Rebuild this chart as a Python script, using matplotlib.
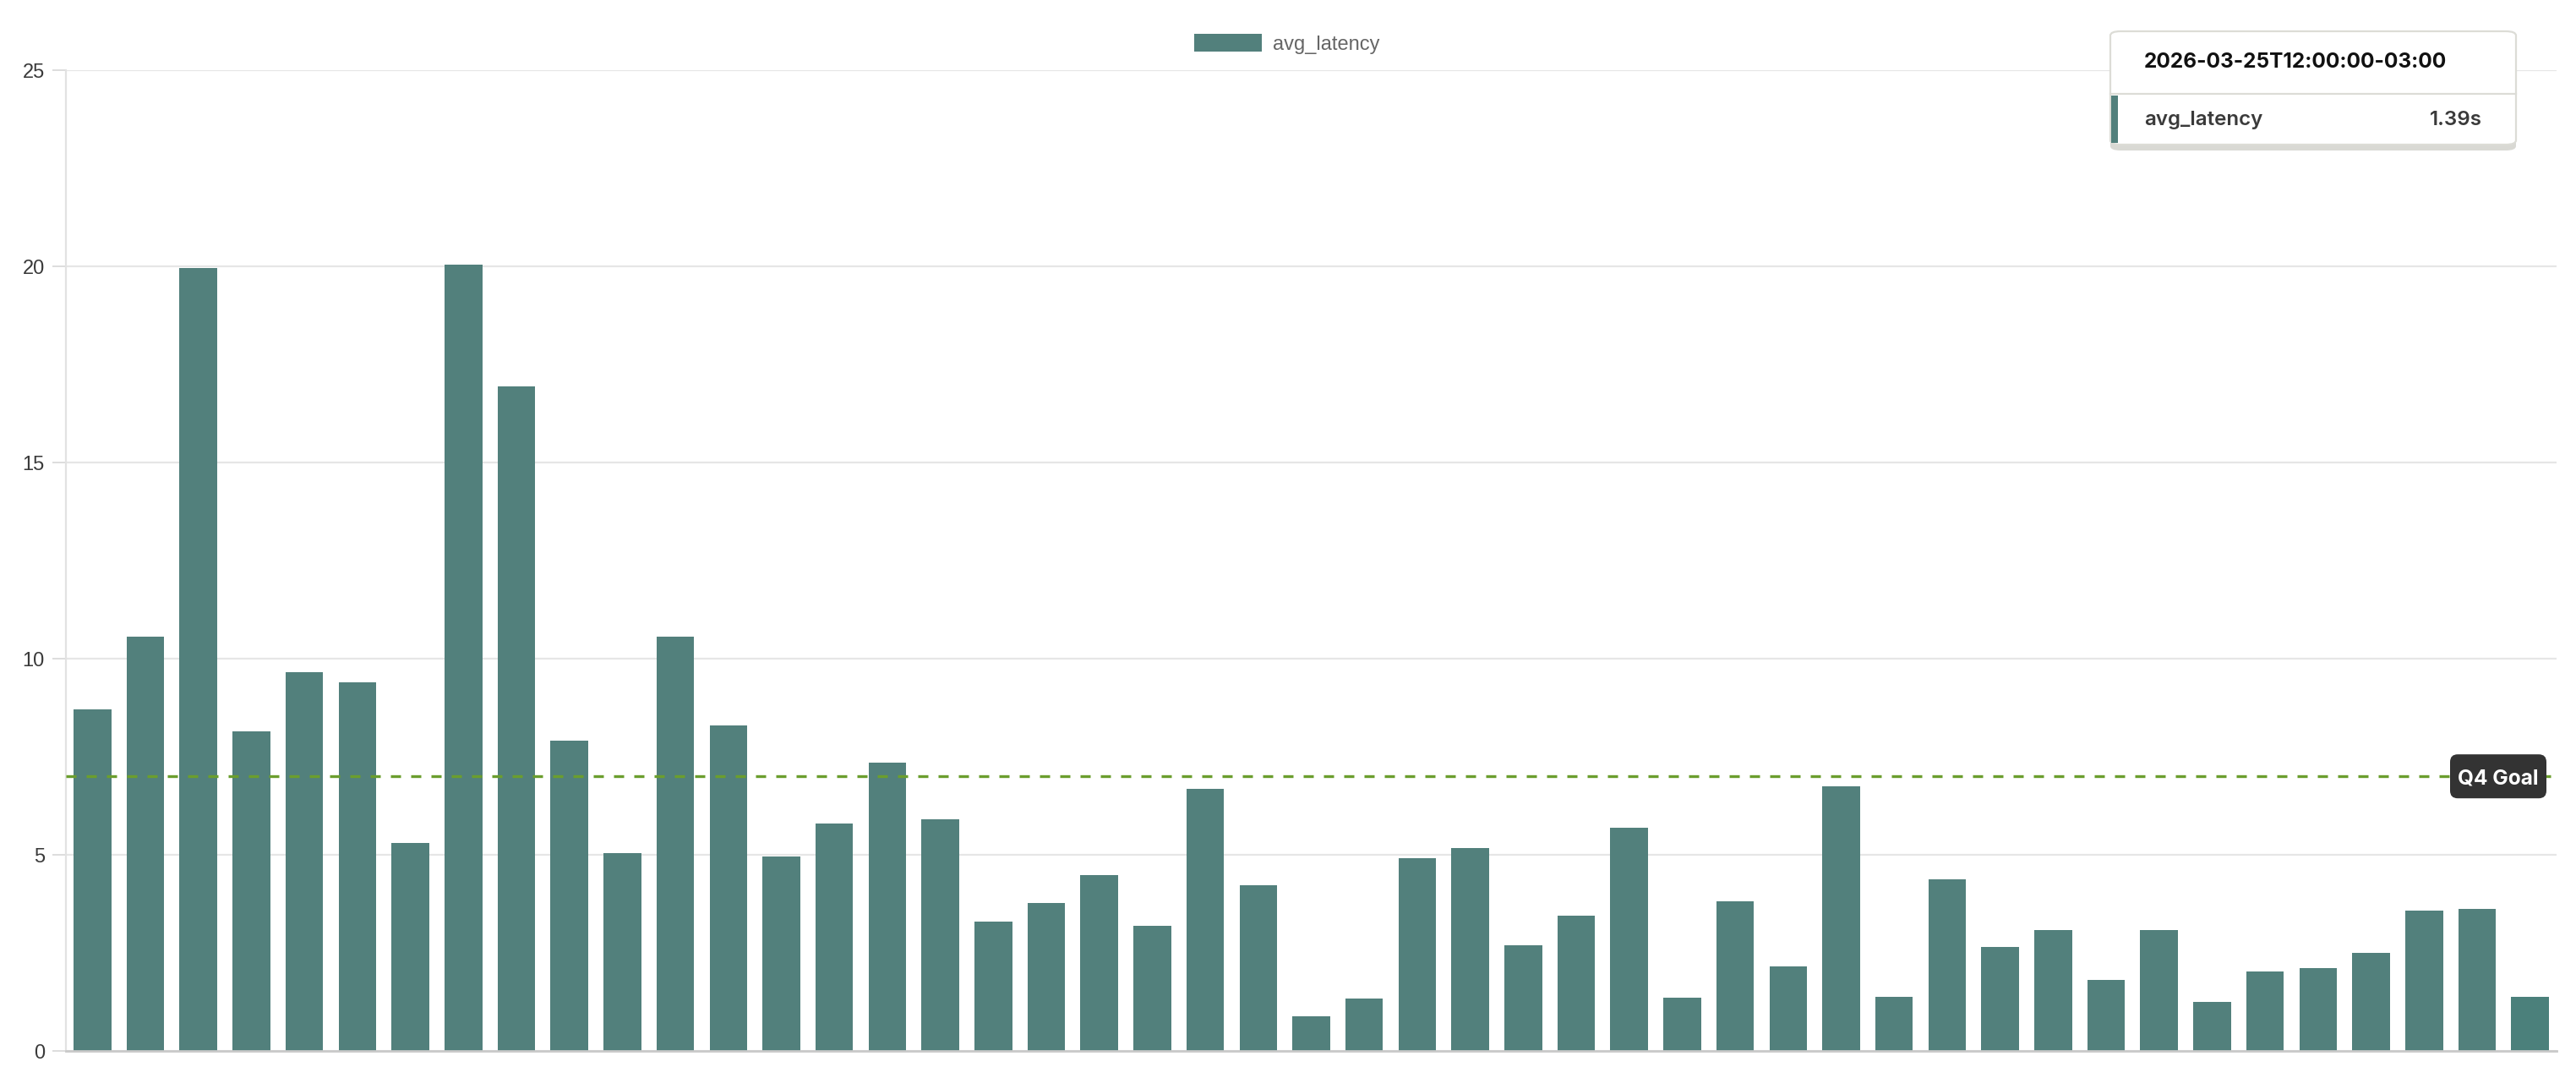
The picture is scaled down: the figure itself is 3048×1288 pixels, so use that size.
import matplotlib
matplotlib.use('Agg')
import matplotlib.pyplot as plt
from matplotlib.patches import FancyBboxPatch, Rectangle
from matplotlib.lines import Line2D
from matplotlib.transforms import IdentityTransform

# data
avg_latency = [8.7, 10.55, 19.95, 8.15, 9.65, 9.4, 5.3, 20.05, 16.95, 7.9,
               5.05, 10.55, 8.3, 4.95, 5.8, 7.35, 5.9, 3.3, 3.78, 4.48,
               3.2, 6.68, 4.22, 0.88, 1.33, 4.92, 5.18, 2.7, 3.45, 5.68,
               1.35, 3.82, 2.16, 6.75, 1.38, 4.38, 2.66, 3.08, 1.82, 3.08,
               1.24, 2.03, 2.12, 2.5, 3.57, 3.62, 1.39]
y_ticks = [0, 5, 10, 15, 20, 25]
goal_value = 7
goal_label = 'Q4 Goal'
series_name = 'avg_latency'
tooltip_time = '2026-03-25T12:00:00-03:00'
tooltip_value = '1.39s'

bar_color = '#52807c'
hover_color = '#4b807b'
grid_color = '#e6e6e6'
goal_color = '#6b9e2e'

W, H = 3048, 1288
fig = plt.figure(figsize=(W / 200, H / 200), dpi=200)
ax = fig.add_axes([78 / W, 1 - 1243 / H, (3025 - 78) / W, (1243 - 83) / H])

x = list(range(len(avg_latency)))
colors = [bar_color] * (len(avg_latency) - 1) + [hover_color]
bars = ax.bar(x, avg_latency, width=0.71, color=colors, zorder=2, label=series_name)

ax.set_xlim(-0.5, len(avg_latency) - 0.5)
ax.set_ylim(0, 25)
ax.set_yticks(y_ticks)
ax.set_xticks([])
ax.yaxis.grid(True, color=grid_color, lw=0.8, zorder=0)
ax.set_axisbelow(True)
for s in ['top', 'right']:
    ax.spines[s].set_visible(False)
ax.spines['left'].set_color('#e2e2e2')
ax.spines['left'].set_linewidth(0.8)
ax.spines['bottom'].set_color('#c9c9c9')
ax.spines['bottom'].set_linewidth(1.0)
ax.tick_params(axis='y', length=5.8, width=0.7, color='#dddddd', pad=3.2,
               labelsize=8.5, labelcolor='#3a3a3a')
for lab in ax.get_yticklabels():
    lab.set_fontfamily('Liberation Sans')

# goal line + dark label at the right end
ax.axhline(goal_value, color=goal_color, lw=1.2, dashes=(3.6, 3.6), zorder=3)
gy = ax.transData.transform((0, goal_value))[1]
label_box = FancyBboxPatch((2899, gy - 26), 114, 52,
                           boxstyle='round,pad=0,rounding_size=9',
                           transform=IdentityTransform(), fc='#333333', ec='none', zorder=5)
fig.patches.append(label_box)
fig.text(2956 / W, gy / H, goal_label, ha='center', va='center_baseline', color='white',
         fontsize=8.8, fontweight='bold', family='Inter', zorder=6)

# legend at top centre
fig.legend(handles=[bars], labels=[series_name], loc='center',
           bbox_to_anchor=(0.4995, 1 - 52 / H), frameon=False,
           prop={'family': 'Liberation Sans', 'size': 8.5},
           labelcolor='#666666', handlelength=3.4, handleheight=0.97,
           handletextpad=0.55, borderpad=0, borderaxespad=0)


# tooltip box (figure pixel helpers)
def fx(px):
    return px / W


def fy(py):
    return 1 - py / H


tl, tr, tt, tb = 2497, 2977, 37, 171
shadow = FancyBboxPatch((fx(tl), fy(tb + 7)), fx(tr - tl), (tb + 7 - tt - 7) / H,
                        boxstyle='round,pad=0,rounding_size=0.004',
                        transform=fig.transFigure, fc='#d9d9d4', ec='none', zorder=10)
fig.patches.append(shadow)
box = FancyBboxPatch((fx(tl), fy(tb)), fx(tr - tl), (tb - tt) / H,
                     boxstyle='round,pad=0,rounding_size=0.004',
                     transform=fig.transFigure, fc='white', ec='#dcdcd6', lw=0.8, zorder=11)
fig.patches.append(box)
fig.add_artist(Line2D([fx(tl), fx(tr)], [fy(111), fy(111)], color='#dcdcd6', lw=0.8,
                      transform=fig.transFigure, zorder=12))
fig.patches.append(Rectangle((fx(tl + 1), fy(tb - 2)), fx(8), (tb - 2 - 113) / H,
                             transform=fig.transFigure, fc=bar_color, ec='none', zorder=12))
fig.text(fx(2537), fy(73), tooltip_time, ha='left', va='center', fontsize=8.8,
         fontweight='bold', family='Inter', color='#111111', zorder=13)
fig.text(fx(2537), fy(142), series_name, ha='left', va='center', fontsize=8.7,
         fontweight='semibold', family='Inter', color='#3a3a3a', zorder=13)
fig.text(fx(2937), fy(142), tooltip_value, ha='right', va='center', fontsize=8.7,
         fontweight='semibold', family='Inter', color='#3a3a3a', zorder=13)

fig.savefig('out.png', dpi=200, facecolor='white')
